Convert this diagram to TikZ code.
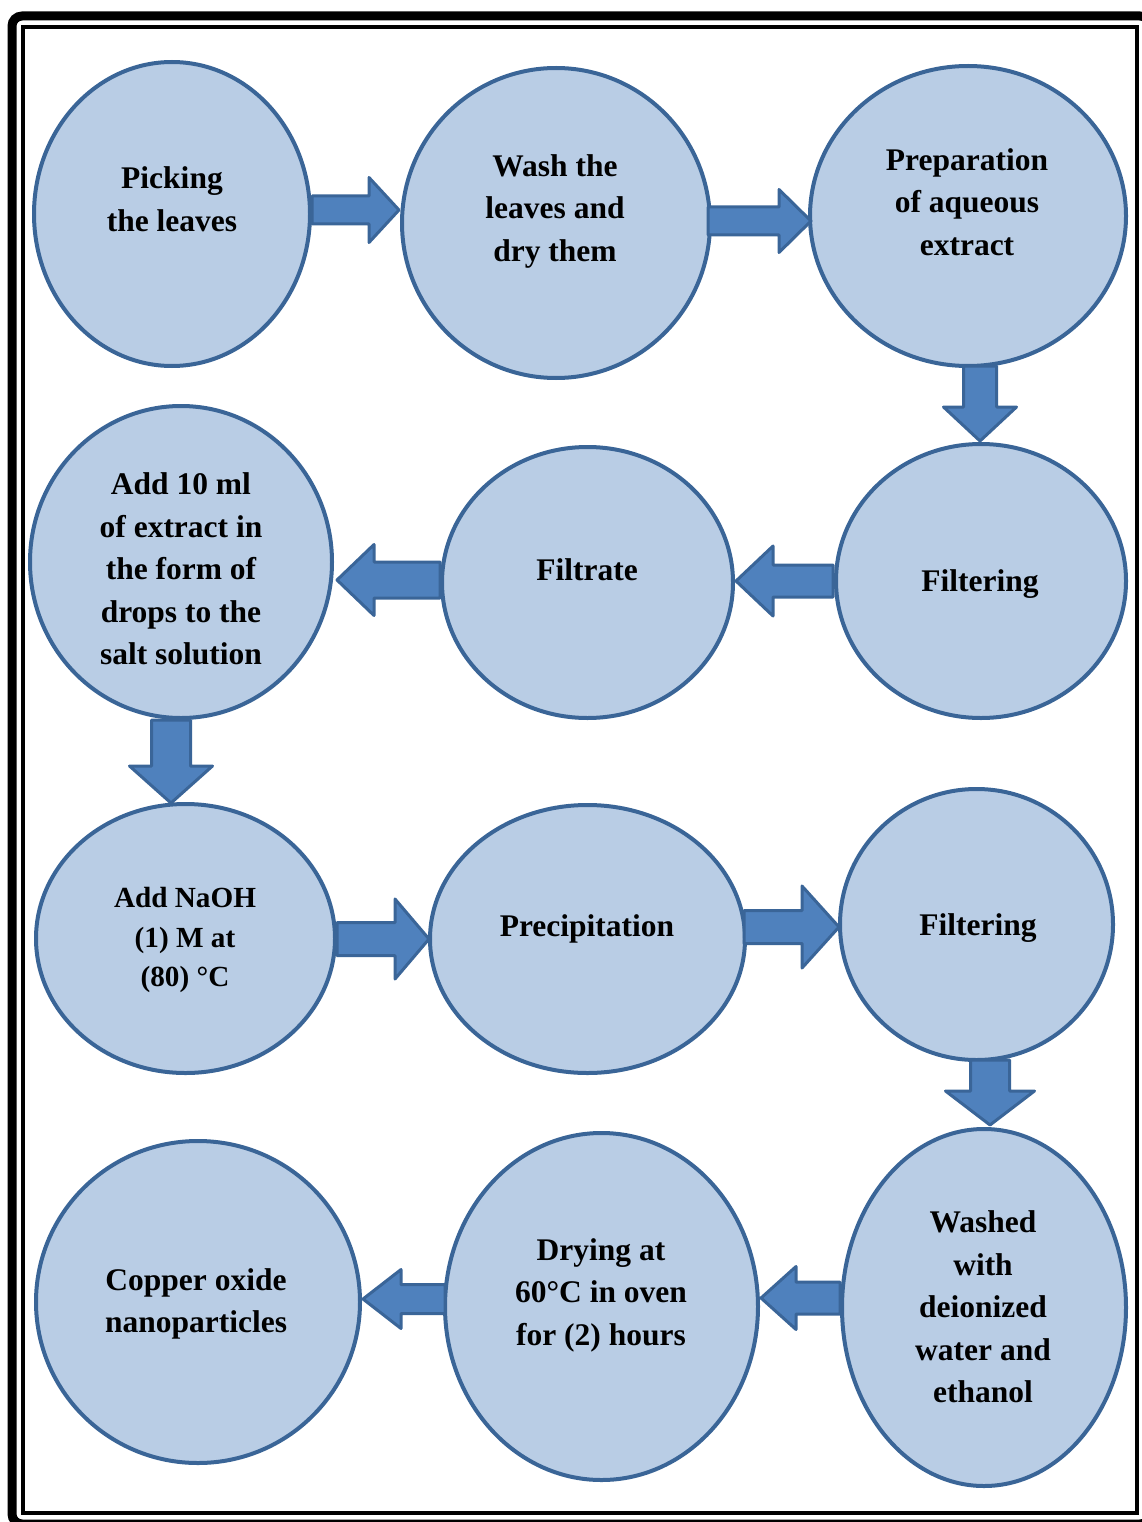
\documentclass[tikz,border=0pt]{standalone}
\usepackage{fontspec}
\setmainfont{Liberation Serif}
\usetikzlibrary{shapes.geometric,calc}
\definecolor{cfill}{HTML}{B9CDE5}
\definecolor{cline}{HTML}{3A6597}
\definecolor{afill}{HTML}{4F81BD}
\definecolor{aline}{HTML}{3A6598}
\tikzset{
 stage/.style={ellipse, draw=cline, fill=cfill, line width=4pt, inner sep=0pt},
 txt/.style={align=center, font=\fontsize{31.5}{42.5}\selectfont\bfseries, inner sep=0pt},
 blockarrow/.style={draw=aline, fill=afill, line width=3pt, line join=round},
 frameouter/.style={line width=9pt, rounded corners=10pt},
 frameinner/.style={line width=4pt},
}
% #1 tail, #2 tip, #3 shaft half width, #4 head half width, #5 head length
\newcommand\fatarrow[5]{%
 \path ($(#2)!#5!(#1)$) coordinate (hb);
 \draw[blockarrow] ($(#1)!#3!90:(#2)$) -- ($(hb)!#3!90:(#2)$) -- ($(hb)!#4!90:(#2)$)
   -- (#2) -- ($(hb)!#4!-90:(#2)$) -- ($(hb)!#3!-90:(#2)$) -- ($(#1)!#3!-90:(#2)$) -- cycle;}
\begin{document}
\begin{tikzpicture}[x=1pt,y=-1pt]
\useasboundingbox (0,0) rectangle (1141,1522);
\draw[frameouter] (12,16) rectangle (1150,1524);
\draw[frameinner] (23,27) rectangle (1137,1513);

% stages
\node[stage, minimum width=276pt, minimum height=304pt] (c1) at (172,214) {};
\node[stage, minimum width=308pt, minimum height=310pt] (c2) at (556,223) {};
\node[stage, minimum width=316pt, minimum height=300pt] (c3) at (968,216) {};
\node[stage, minimum width=290pt, minimum height=274pt] (c4) at (981,581) {};
\node[stage, minimum width=291pt, minimum height=271pt] (c5) at (587.5,582.5) {};
\node[stage, minimum width=302pt, minimum height=312pt] (c6) at (181,562) {};
\node[stage, minimum width=299pt, minimum height=269pt] (c7) at (185.5,938.5) {};
\node[stage, minimum width=315pt, minimum height=268pt] (c8) at (587.5,939) {};
\node[stage, minimum width=273pt, minimum height=271pt] (c9) at (976.5,924.5) {};
\node[stage, minimum width=284pt, minimum height=357pt] (c10) at (984,1307.5) {};
\node[stage, minimum width=313pt, minimum height=347pt] (c11) at (601.5,1306.5) {};
\node[stage, minimum width=324pt, minimum height=322pt] (c12) at (198,1302) {};

% texts
\node[txt] (t1) at (172,199) {Picking\\the leaves};
\node[txt] (t2) at (555,211) {Wash the\\leaves and\\dry them};
\node[txt] (t3) at (967,202) {Preparation\\of aqueous\\extract};
\node[txt] (t4) at (980,584) {Filtering};
\node[txt] (t5) at (587,570) {Filtrate};
\node[txt] (t6) at (181,569) {Add 10 ml\\of extract in\\the form of\\drops to the\\salt solution};
\node[txt, font=\fontsize{29.2}{39.5}\selectfont\bfseries] (t7) at (185,940) {Add NaOH\\(1) M at\\(80) °C};
\node[txt] (t8) at (587,929) {Precipitation};
\node[txt] (t9) at (978,928) {Filtering};
\node[txt] (t10) at (983,1307) {Washed\\with\\deionized\\water and\\ethanol};
\node[txt] (t11) at (601,1295) {Drying at\\60°C in oven\\for (2) hours};
\node[txt] (t12) at (196,1304) {Copper oxide\\nanoparticles};

% arrow end points
\coordinate (a1s) at (312,210);  \coordinate (a1e) at (399,210);
\coordinate (a2s) at (708,221);  \coordinate (a2e) at (811,221);
\coordinate (a3s) at (980,366);  \coordinate (a3e) at (980,441);
\coordinate (a4s) at (833,581);  \coordinate (a4e) at (736,581);
\coordinate (a5s) at (440,580);  \coordinate (a5e) at (337,580);
\coordinate (a6s) at (171,720);  \coordinate (a6e) at (171,803);
\coordinate (a7s) at (337,939);  \coordinate (a7e) at (429,939);
\coordinate (a8s) at (744,927);  \coordinate (a8e) at (839,927);
\coordinate (a9s) at (990,1060); \coordinate (a9e) at (990,1125);
\coordinate (a10s) at (840,1298); \coordinate (a10e) at (761,1298);
\coordinate (a11s) at (445,1299); \coordinate (a11e) at (363,1299);

\fatarrow{a1s}{a1e}{14pt}{32.5pt}{30pt}
\fatarrow{a2s}{a2e}{14pt}{31.5pt}{32pt}
\fatarrow{a3s}{a3e}{16.5pt}{36.5pt}{34pt}
\fatarrow{a4s}{a4e}{16pt}{35pt}{37pt}
\fatarrow{a5s}{a5e}{18pt}{35.5pt}{37pt}
\fatarrow{a6s}{a6e}{19.5pt}{41.5pt}{37pt}
\fatarrow{a7s}{a7e}{16.5pt}{40pt}{34pt}
\fatarrow{a8s}{a8e}{16.5pt}{41pt}{37pt}
\fatarrow{a9s}{a9e}{19.5pt}{44.5pt}{34pt}
\fatarrow{a10s}{a10e}{16pt}{31.5pt}{35pt}
\fatarrow{a11s}{a11e}{14.5pt}{29.5pt}{38pt}
\end{tikzpicture}
\end{document}
